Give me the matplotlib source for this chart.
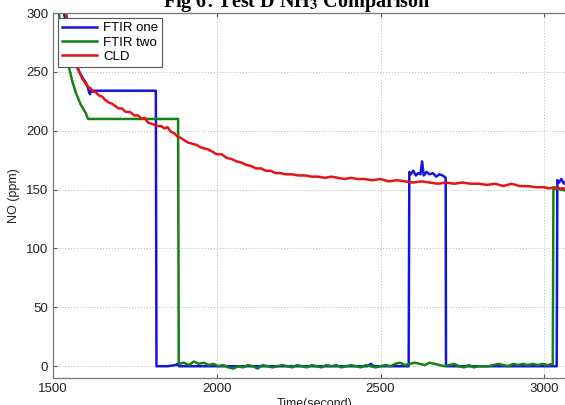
"""NO (ppm) from the two FTIR units and the CLD over the test D run."""

import matplotlib.pyplot as plt

# CLD trace (red)
cld_t = [1525, 1540, 1550, 1560, 1570, 1580, 1590, 1600, 1608, 1615, 1622,
         1630, 1640, 1650, 1660, 1670, 1680, 1690, 1700, 1710, 1722, 1735,
         1748, 1760, 1770, 1780, 1790, 1800, 1810, 1820, 1830, 1840, 1850,
         1860, 1870, 1880, 1890, 1900, 1912, 1925, 1938, 1950, 1962, 1975,
         1988, 2000, 2015, 2030, 2045, 2060, 2075, 2090, 2105, 2120, 2135,
         2150, 2165, 2180, 2195, 2210, 2230, 2250, 2270, 2290, 2310, 2330,
         2350, 2370, 2390, 2410, 2430, 2450, 2475, 2500, 2525, 2550, 2575,
         2600, 2625, 2650, 2675, 2700, 2725, 2750, 2775, 2800, 2825, 2850,
         2875, 2900, 2925, 2950, 2975, 3000, 3015, 3030, 3050, 3070]
cld = [312, 300, 285, 270, 259, 250, 244, 240, 237, 236, 233, 233, 230, 229,
       226, 224, 223, 221, 219, 219, 216, 216, 213, 213, 210, 211, 207, 206,
       205, 204, 204, 202, 203, 199, 198, 195, 194, 192, 190, 189, 188, 186,
       185, 184, 182, 180, 180, 177, 176, 174, 173, 171, 170, 168, 168, 166,
       166, 164, 164, 163, 163, 162, 162, 161, 161, 160, 161, 160, 159, 160,
       159, 159, 158, 159, 157, 158, 157, 156, 157, 156, 155, 156, 155, 156,
       155, 155, 154, 155, 153, 155, 153, 153, 152, 152, 151, 152, 151, 151]

# FTIR one (blue)
one_t = [1525, 1545, 1560, 1575, 1590, 1600, 1606, 1610, 1613, 1616, 1814,
         1815, 1816, 1850, 1875, 1880, 1885, 1950, 2100, 2300, 2460, 2470,
         2480, 2586, 2588, 2592, 2600, 2608, 2615, 2622, 2627, 2632, 2640,
         2650, 2660, 2670, 2680, 2690, 2699, 2700, 2750, 2850, 2950, 3038,
         3040, 3045, 3052, 3060, 3070]
one = [310, 285, 266, 253, 245, 241, 237, 233, 231, 234, 234, 117, 0, 0, 1,
       2, 0, 0, 0, 0, 0, 2, 0, 0, 165, 163, 166, 162, 164, 163, 174, 162, 165,
       163, 164, 161, 163, 162, 160, 0, 0, 0, 0, 0, 158, 156, 159, 155, 158]

# FTIR two (green)
two_t = [1512, 1518, 1530, 1546, 1560, 1570, 1585, 1600, 1607, 1882, 1883,
         1884, 1900, 1915, 1930, 1945, 1960, 1975, 1990, 2005, 2020, 2035,
         2050, 2065, 2080, 2095, 2110, 2125, 2140, 2155, 2170, 2185, 2200,
         2215, 2230, 2245, 2260, 2275, 2290, 2305, 2320, 2335, 2350, 2365,
         2380, 2395, 2410, 2425, 2440, 2455, 2470, 2485, 2500, 2515, 2530,
         2545, 2560, 2575, 2590, 2605, 2620, 2635, 2650, 2665, 2680, 2695,
         2710, 2725, 2740, 2755, 2770, 2785, 2800, 2830, 2845, 2860, 2875,
         2890, 2905, 2920, 2935, 2950, 2965, 2980, 2995, 3010, 3026, 3028,
         3035, 3050, 3070]
two = [310, 300, 276, 257, 241, 232, 222, 215, 210, 210, 107, 2, 3, 1, 4, 2,
       3, 1, 2, 0, 1, -1, -2, 0, -1, 1, 0, -2, 1, 0, -1, 0, 1, 0, -1, 1, 0,
       -1, 1, 0, -1, 1, 0, 1, -1, 0, 1, 0, -1, 1, 0, -1, 0, 1, 0, 2, 3, 1, 2,
       3, 2, 1, 3, 2, 1, 0, 1, 2, 0, -1, 1, -1, 0, 0, 1, 2, 1, 0, 2, 1, 2, 1,
       2, 1, 2, 1, 2, 150, 151, 150, 149]

x_ticks = [1500, 2000, 2500, 3000]
y_ticks = [0, 50, 100, 150, 200, 250, 300]

plt.rcParams["font.family"] = "Liberation Sans"
plt.rcParams["mathtext.fontset"] = "stix"

fig = plt.figure(figsize=(5.65, 4.05), dpi=100)
ax = fig.add_axes([53 / 565, 27 / 405, 524 / 565, 365 / 405])

ax.plot(one_t, one, color="#1414dc", lw=1.8, label="FTIR one")
ax.plot(two_t, two, color="#168216", lw=1.8, label="FTIR two")
ax.plot(cld_t, cld, color="#e61414", lw=1.8, label="CLD")

ax.set_xlim(1500, 3100)
ax.set_ylim(-10, 300)
ax.set_xticks(x_ticks)
ax.set_yticks(y_ticks)
ax.tick_params(direction="in", length=3, labelsize=9.5, colors="#555555",
               labelcolor="#222222", top=True, right=True)
ax.grid(True, linestyle=(0, (1, 2)), color="#b8b8b8", lw=0.7)
for s in ax.spines.values():
    s.set_color("#777777")
    s.set_linewidth(0.9)

ax.set_xlabel("Time(second)", fontsize=9, color="#222222", labelpad=2)
ax.set_ylabel("NO (ppm)", fontsize=9, color="#222222", labelpad=4)

leg = ax.legend(loc="upper left", fontsize=9.5, handlelength=2.6,
                borderaxespad=0.4, fancybox=False, framealpha=1,
                borderpad=0.3, labelspacing=0.15, handletextpad=0.5)
leg.get_frame().set_edgecolor("#555555")
leg.get_frame().set_linewidth(0.8)

fig.text(0.525, 1 - 7 / 405, r"Fig 6: Test D NH$_\mathbf{3}$ Comparison",
         fontsize=14.5, fontweight="bold", family="Liberation Serif",
         ha="center", va="baseline")

fig.savefig("out.png", dpi=100)
